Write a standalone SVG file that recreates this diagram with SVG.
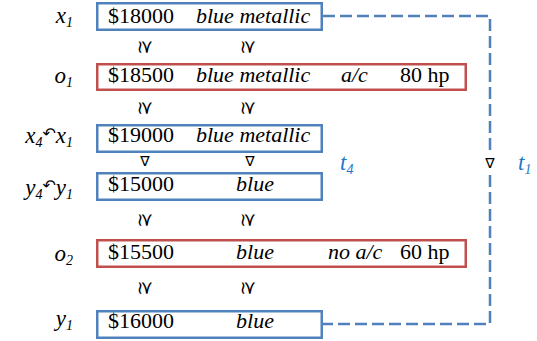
<svg xmlns="http://www.w3.org/2000/svg" width="537" height="341" viewBox="0 0 537 341">
  <style>
    .box { fill: #ffffff; stroke-width: 2.5; }
    .blue { stroke: #4f81bd; }
    .red { stroke: #c0504d; }
    .val { font-family: 'Liberation Serif', 'DejaVu Serif', serif; font-size: 22px; fill: #000000; }
    .it { font-style: italic; }
    .lbl { font-family: 'Liberation Serif', 'DejaVu Serif', serif; font-style: italic; font-size: 23px; fill: #000000; }
    .sub { font-size: 14px; }
    .arr { font-family: 'DejaVu Sans', sans-serif; font-style: normal; font-size: 16px; }
    .rel { font-family: 'DejaVu Sans', sans-serif; font-size: 18px; fill: #000000; }
    .tri { font-family: 'DejaVu Sans', sans-serif; font-size: 14px; fill: #000000; }
    .tag { font-family: 'Liberation Serif', 'DejaVu Serif', serif; font-style: italic; font-size: 23px; fill: #1f78c8; }
    .link { fill: none; stroke: #4f81bd; stroke-width: 2.5; stroke-dasharray: 12 5; }
  </style>

  <!-- dashed t1 connector from x1 to y1 -->
  <g id="connectors">
    <path class="link" d="M323,16 H490 V152"/>
    <path class="link" d="M490,175 V324 H323"/>
    <text class="tri" x="490" y="163" text-anchor="middle" dominant-baseline="central">∇</text>
    <text class="tag" x="518" y="170">t<tspan class="sub" dy="4">1</tspan></text>
    <text class="tag" x="340" y="170">t<tspan class="sub" dy="4">4</tspan></text>
  </g>

  <g id="x1">
    <text class="lbl" x="73" y="23" text-anchor="end">x<tspan class="sub" dy="4">1</tspan></text>
    <rect class="box blue" x="97.25" y="3.25" width="224.5" height="26.5"/>
    <text class="val" x="108" y="23">$18000</text>
    <text class="val it" x="196" y="23">blue metallic</text>
  </g>

  <g id="o1">
    <text class="lbl" x="73" y="83" text-anchor="end">o<tspan class="sub" dy="4">1</tspan></text>
    <rect class="box red" x="97.25" y="64.25" width="368.5" height="25.5"/>
    <text class="val" x="108" y="82">$18500</text>
    <text class="val it" x="196" y="82">blue metallic</text>
    <text class="val it" x="341" y="82">a/c</text>
    <text class="val" x="400" y="82">80 hp</text>
  </g>

  <g id="x4">
    <text class="lbl" x="73" y="143" text-anchor="end">x<tspan class="sub" dy="4">4</tspan><tspan class="arr" dy="-8">↶</tspan><tspan dy="4">x</tspan><tspan class="sub" dy="4">1</tspan></text>
    <rect class="box blue" x="97.25" y="125.25" width="224.5" height="26.5"/>
    <text class="val" x="108" y="142">$19000</text>
    <text class="val it" x="196" y="142">blue metallic</text>
  </g>

  <g id="y4">
    <text class="lbl" x="73" y="195" text-anchor="end">y<tspan class="sub" dy="4">4</tspan><tspan class="arr" dy="-8">↶</tspan><tspan dy="4">y</tspan><tspan class="sub" dy="4">1</tspan></text>
    <rect class="box blue" x="97.25" y="173.25" width="224.5" height="26.5"/>
    <text class="val" x="108" y="191">$15000</text>
    <text class="val it" x="255" y="191" text-anchor="middle">blue</text>
  </g>

  <g id="o2">
    <text class="lbl" x="73" y="261" text-anchor="end">o<tspan class="sub" dy="4">2</tspan></text>
    <rect class="box red" x="97.25" y="240.25" width="368.5" height="26.5"/>
    <text class="val" x="108" y="259">$15500</text>
    <text class="val it" x="255" y="259" text-anchor="middle">blue</text>
    <text class="val it" x="328" y="259">no a/c</text>
    <text class="val" x="400" y="259">60 hp</text>
  </g>

  <g id="y1">
    <text class="lbl" x="73" y="326" text-anchor="end">y<tspan class="sub" dy="4">1</tspan></text>
    <rect class="box blue" x="97.25" y="311.25" width="224.5" height="26.5"/>
    <text class="val" x="108" y="328">$16000</text>
    <text class="val it" x="255" y="328" text-anchor="middle">blue</text>
  </g>

  <!-- preference relations between rows -->
  <g id="relations">
    <text class="rel" transform="translate(146,47) rotate(90)" text-anchor="middle" dominant-baseline="central">≿</text>
    <text class="rel" transform="translate(249,47) rotate(90)" text-anchor="middle" dominant-baseline="central">≿</text>
    <text class="rel" transform="translate(146,108) rotate(90)" text-anchor="middle" dominant-baseline="central">≿</text>
    <text class="rel" transform="translate(249,108) rotate(90)" text-anchor="middle" dominant-baseline="central">≿</text>
    <text class="tri" x="145" y="161" text-anchor="middle" dominant-baseline="central">∇</text>
    <text class="tri" x="250" y="161" text-anchor="middle" dominant-baseline="central">∇</text>
    <text class="rel" transform="translate(146,220) rotate(90)" text-anchor="middle" dominant-baseline="central">≿</text>
    <text class="rel" transform="translate(249,220) rotate(90)" text-anchor="middle" dominant-baseline="central">≿</text>
    <text class="rel" transform="translate(146,288) rotate(90)" text-anchor="middle" dominant-baseline="central">≿</text>
    <text class="rel" transform="translate(249,288) rotate(90)" text-anchor="middle" dominant-baseline="central">≿</text>
  </g>
</svg>
